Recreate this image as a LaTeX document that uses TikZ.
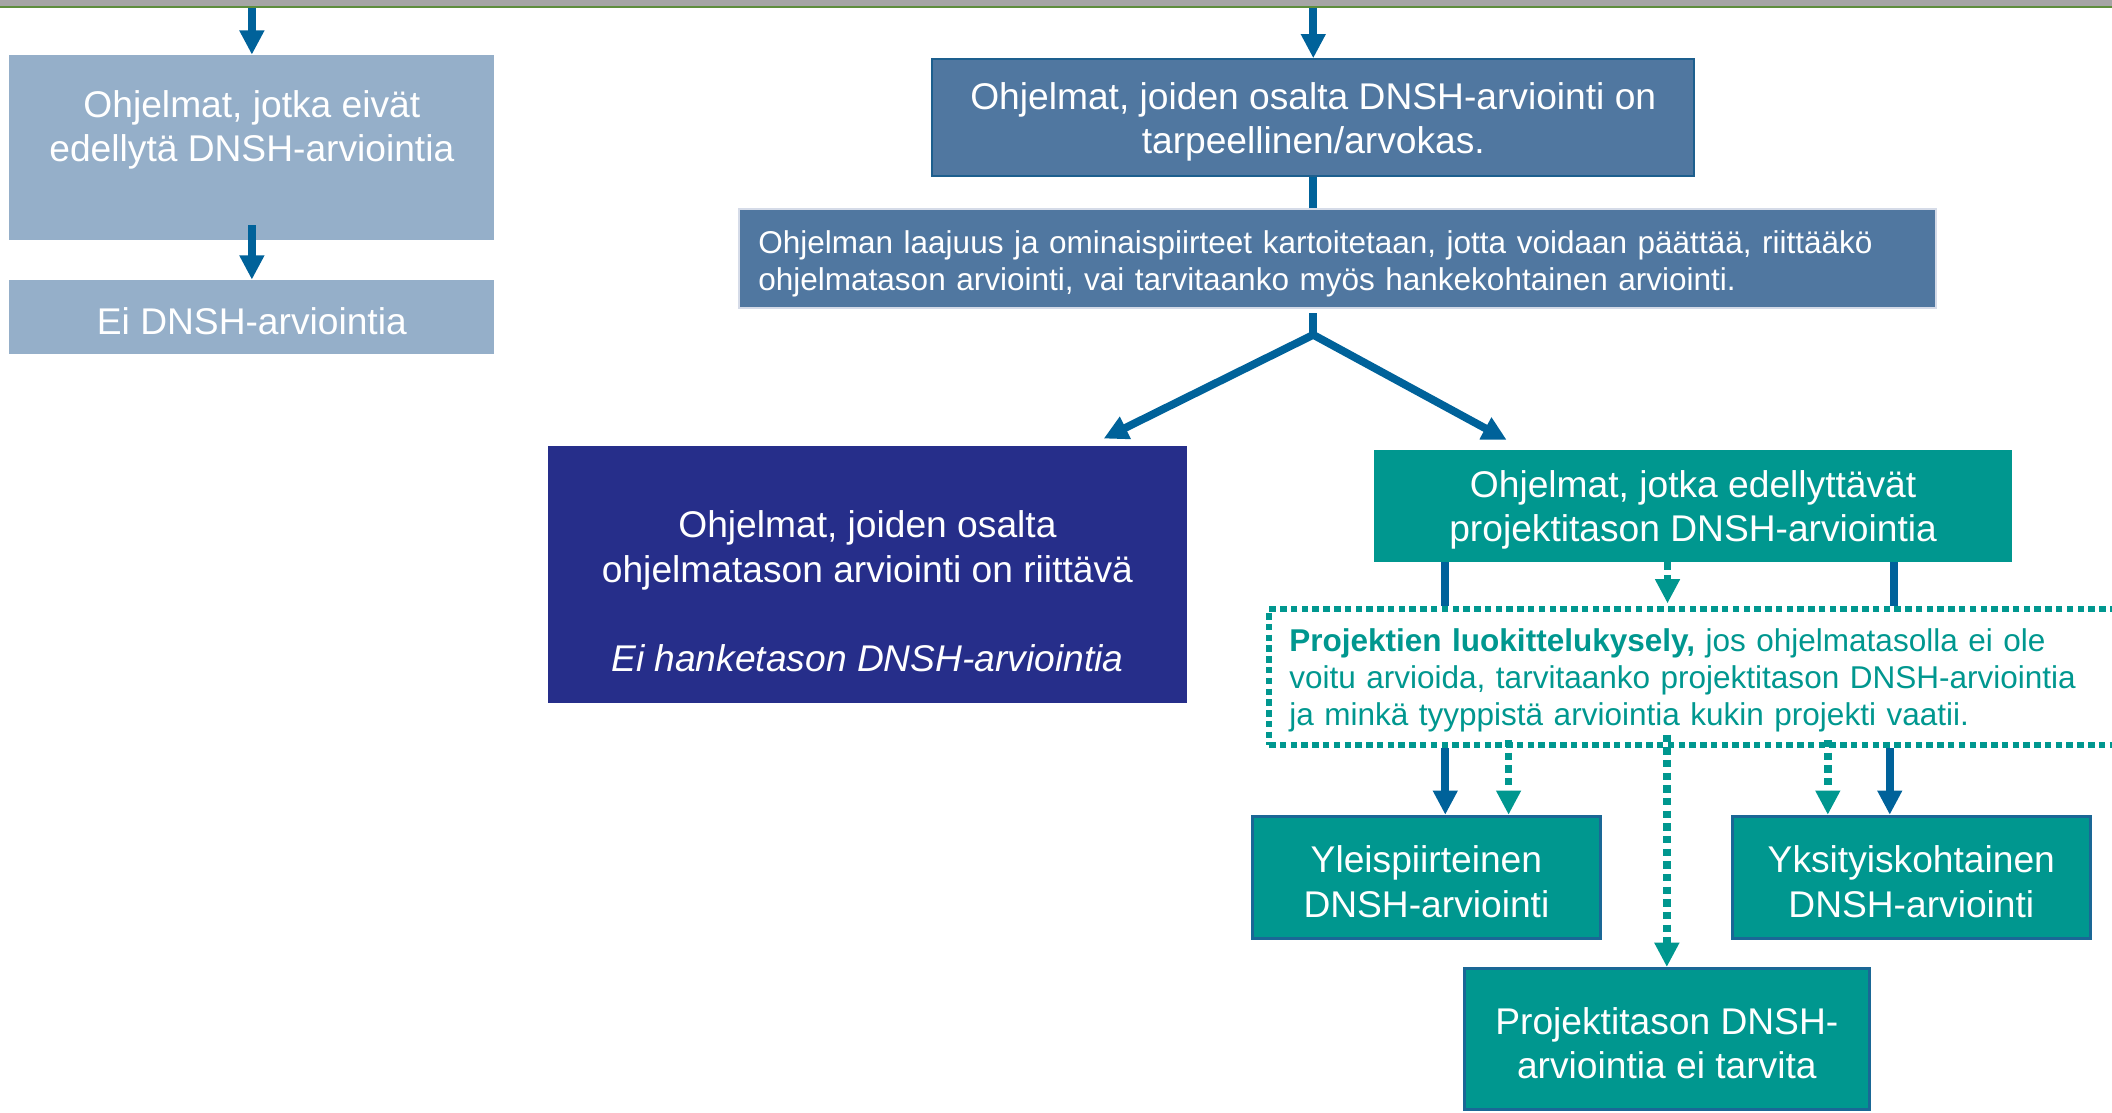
\documentclass[tikz,border=0pt]{standalone}
\usepackage{fontspec}
\setmainfont{Liberation Sans}
\usetikzlibrary{arrows.meta,calc}

\definecolor{paleblue}{RGB}{149,175,201}
\definecolor{steelblue}{RGB}{80,119,160}
\definecolor{steeledge}{RGB}{29,95,142}
\definecolor{scanedge}{RGB}{213,219,232}
\definecolor{deepblue}{RGB}{38,46,138}
\definecolor{tealfill}{RGB}{0,151,143}
\definecolor{tealedge}{RGB}{26,103,150}
\definecolor{linkblue}{RGB}{0,98,154}
\definecolor{bandgray}{RGB}{165,165,165}
\definecolor{bandgreen}{RGB}{94,142,62}

\newcommand{\flowfont}{\fontsize{13.8pt}{16.6pt}\selectfont}
\newcommand{\notefont}{\fontsize{11.7pt}{13.8pt}\selectfont}
\newcommand{\liftline}{\rule{0pt}{13pt}}

\begin{document}
\begin{tikzpicture}[x=0.5pt,y=-0.5pt,
    flowtip/.tip={Triangle[width=8.7pt,length=9pt]},
    flow/.style={text=white,font=\flowfont,align=center,inner sep=4pt},
    palebox/.style={flow,fill=paleblue,minimum width=180pt},
    steelbox/.style={flow,fill=steelblue,line width=0.75pt},
    tealbox/.style={flow,fill=tealfill,minimum height=45.5pt},
    blueline/.style={draw=linkblue,line width=2.9pt},
    bluearrow/.style={blueline,-flowtip},
    tealdots/.style={draw=tealfill,line width=2.9pt,dash pattern=on 2.7pt off 2pt,-flowtip}]

  \useasboundingbox (0,0) rectangle (1568,826);

  % band at the top
  \fill[bandgray] (0,0) rectangle (1568,4.5);
  \draw[bandgreen,line width=0.85pt] (0,5.3) -- (1568,5.3);

  % left column
  \node[palebox,minimum height=68.5pt] (noreq) at (187,109.5)
    {\liftline Ohjelmat, jotka eivät\\edellytä DNSH-arviointia\rule[-19pt]{0pt}{0pt}};
  \node[palebox,minimum height=27.5pt] (nodnsh) at (187,235.5) {\liftline Ei DNSH-arviointia};

  % programme level
  \node[steelbox,draw=steeledge,minimum width=283pt,minimum height=43.5pt] (needs) at (975,87.5)
    {\liftline Ohjelmat, joiden osalta DNSH-arviointi on\\tarpeellinen/arvokas.};
  \node[steelbox,draw=scanedge,font=\notefont,align=left,text width=430pt,inner xsep=7pt,minimum height=36pt,
        execute at begin node=\rule{0pt}{12.6pt}] (scan) at (993,192)
    {Ohjelman laajuus ja ominaispiirteet kartoitetaan, jotta voidaan päättää, riittääkö\\
     ohjelmatason arviointi, vai tarvitaanko myös hankekohtainen arviointi.};

  \node[flow,fill=deepblue,minimum width=237pt,minimum height=95.5pt] (progok) at (644,426.5)
    {\rule{0pt}{22.5pt}Ohjelmat, joiden osalta\\ohjelmatason arviointi on riittävä\\[16.5pt]
     \textit{Ei hanketason DNSH-arviointia}};
  \node[tealbox,minimum width=237pt,minimum height=41.5pt] (projreq) at (1257,375.5)
    {\liftline Ohjelmat, jotka edellyttävät\\projektitason DNSH-arviointia};

  % project level
  \node[draw=tealfill,line width=2.2pt,dash pattern=on 2.4pt off 1.6pt,text=tealfill,font=\notefont,
        align=left,text width=305pt,inner xsep=7.5pt,minimum height=50.5pt,anchor=north west,
        execute at begin node=\rule{0pt}{11.1pt}] (survey) at (940,450)
    {\textbf{Projektien luokittelukysely,} jos ohjelmatasolla ei ole\\
     voitu arvioida, tarvitaanko projektitason DNSH-arviointia\\
     ja minkä tyyppistä arviointia kukin projekti vaatii.};

  \node[tealbox,draw=tealedge,line width=1.1pt,minimum width=129pt] (general) at (1059,651.5)
    {\liftline Yleispiirteinen\\DNSH-arviointi};
  \node[tealbox,draw=tealedge,line width=1.1pt,minimum width=133pt] (detail) at (1419,651.5)
    {\liftline Yksityiskohtainen\\DNSH-arviointi};
  \node[tealbox,draw=tealedge,line width=1.1pt,minimum width=150.5pt,minimum height=52.5pt] (noproj) at (1237.5,771.5)
    {\liftline Projektitason DNSH-\\arviointia ei tarvita};

  % connectors
  \coordinate (topleft) at (187,6);
  \coordinate (topmid) at (975,6);
  \draw[bluearrow] (topleft) -- (noreq.north);
  \draw[bluearrow] ($(noreq.south)+(0,-11)$) -- (nodnsh.north);
  \draw[bluearrow] (topmid) -- (needs.north);
  \draw[blueline] (needs.south) -- (needs.south |- scan.north);

  \coordinate (stem) at ($(needs.south |- scan.south)+(0,3)$);
  \coordinate (fork) at ($(needs.south |- scan.south)+(0,19)$);
  \draw[blueline] (stem) -- (fork);
  \draw[blueline,flowtip-flowtip] ($(progok.north east)+(-62,-5)$) -- (fork) -- ($(projreq.north west)+(99,-7)$);

  \coordinate (reqleft) at ($(projreq.south)+(-184,0)$);
  \coordinate (reqmid) at ($(projreq.south)+(-19,0)$);
  \coordinate (reqright) at ($(projreq.south)+(149,0)$);
  \draw[blueline] (reqleft) -- (reqleft |- survey.north);
  \draw[blueline] (reqright) -- (reqright |- survey.north);
  \draw[tealdots] (reqmid) -- ($(reqmid |- survey.north)+(0,-2)$);

  \coordinate (gensolid) at ($(general.north)+(14,0)$);
  \coordinate (gendots) at ($(general.north)+(61,0)$);
  \coordinate (detdots) at ($(detail.north)+(-62,0)$);
  \coordinate (detsolid) at ($(detail.north)+(-16,0)$);
  \draw[bluearrow] (gensolid |- survey.south) -- (gensolid);
  \draw[tealdots] ($(gendots |- survey.south)+(0,-6)$) -- (gendots);
  \draw[tealdots] ($(detdots |- survey.south)+(0,-6)$) -- (detdots);
  \draw[bluearrow] (detsolid |- survey.south) -- (detsolid);
  \draw[tealdots] ($(noproj.north |- survey.south)+(0,-10)$) -- (noproj.north);
\end{tikzpicture}
\end{document}
